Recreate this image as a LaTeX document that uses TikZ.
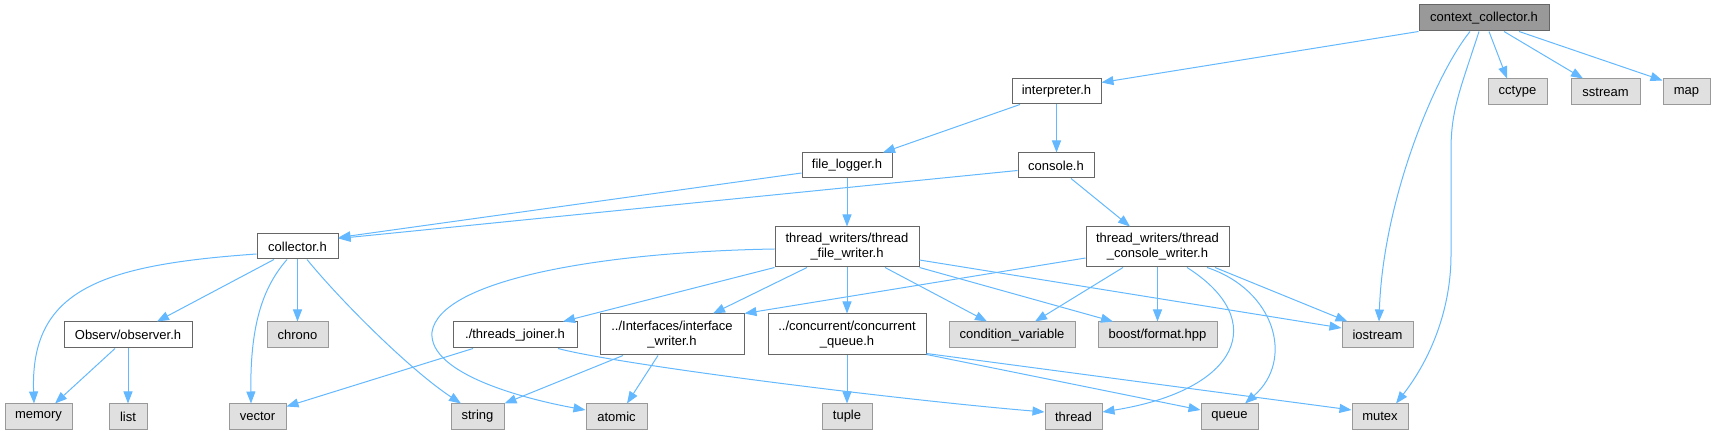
\documentclass[tikz,border=0pt]{standalone}
\usepackage{fontspec}
\setmainfont{Liberation Sans}
\usetikzlibrary{arrows.meta}
\definecolor{edgec}{HTML}{63B8FF}
\definecolor{bordw}{HTML}{666666}
\definecolor{bordg}{HTML}{999999}
\definecolor{fillg}{HTML}{E0E0E0}
\definecolor{fillm}{HTML}{999999}
\begin{document}
\begin{tikzpicture}[x=1pt,y=-1pt,
  box/.style={draw=bordw, fill=white, line width=1pt, inner sep=0pt, align=center, text=black,
    font=\fontsize{13}{15}\selectfont},
  sysbox/.style={box, draw=bordg, fill=fillg},
  mainbox/.style={box, fill=fillm},
  edge/.style={draw=edgec, line width=1pt, -{Triangle[length=12pt,width=9pt]}}]
\useasboundingbox (0,0) rectangle (1716,435);
% nodes
\node[mainbox, minimum width=130pt, minimum height=26pt] (cc) at (1484,18) {context\_collector.h};
\node[box, minimum width=89pt, minimum height=25pt] (interp) at (1056.5,91.5) {interpreter.h};
\node[sysbox, minimum width=59pt, minimum height=26pt] (cctype) at (1517.5,92) {cctype};
\node[sysbox, minimum width=69pt, minimum height=26pt] (sstream) at (1605.5,92) {sstream};
\node[sysbox, minimum width=47pt, minimum height=26pt] (map) at (1686.5,92) {map};
\node[box, minimum width=90pt, minimum height=25pt] (flog) at (847,165.5) {file\_logger.h};
\node[box, minimum width=76pt, minimum height=25pt] (console) at (1056,165.5) {console.h};
\node[box, minimum width=81pt, minimum height=25pt] (collector) at (297.5,246.5) {collector.h};
\node[box, minimum width=144pt, minimum height=40pt] (tfw) at (847,247) {thread\_writers/thread\\\_file\_writer.h};
\node[box, minimum width=143pt, minimum height=40pt] (tcw) at (1157.5,247) {thread\_writers/thread\\\_console\_writer.h};
\node[box, minimum width=128pt, minimum height=26pt] (observer) at (128,335) {Observ/observer.h};
\node[sysbox, minimum width=61pt, minimum height=26pt] (chrono) at (297.5,335) {chrono};
\node[box, minimum width=124pt, minimum height=26pt] (joiner) at (515,335) {./threads\_joiner.h};
\node[box, minimum width=144pt, minimum height=41pt] (iface) at (672,334.5) {../Interfaces/interface\\\_writer.h};
\node[box, minimum width=158pt, minimum height=41pt] (cq) at (847,334.5) {../concurrent/concurrent\\\_queue.h};
\node[sysbox, minimum width=126pt, minimum height=26pt] (condvar) at (1012,335) {condition\_variable};
\node[sysbox, minimum width=119pt, minimum height=26pt] (boost) at (1157.5,335) {boost/format.hpp};
\node[sysbox, minimum width=71pt, minimum height=26pt] (iostream) at (1377.5,335) {iostream};
\node[sysbox, minimum width=67pt, minimum height=25pt] (memory) at (38.5,416.5) {memory};
\node[sysbox, minimum width=38pt, minimum height=25pt] (list) at (128,416.5) {list};
\node[sysbox, minimum width=57pt, minimum height=25pt] (vector) at (257.5,416.5) {vector};
\node[sysbox, minimum width=53pt, minimum height=25pt] (string) at (477.5,416.5) {string};
\node[sysbox, minimum width=61pt, minimum height=25pt] (atomic) at (616.5,416.5) {atomic};
\node[sysbox, minimum width=50pt, minimum height=25pt] (tuple) at (847,416.5) {tuple};
\node[sysbox, minimum width=57pt, minimum height=25pt] (thread) at (1073.5,416.5) {thread};
\node[sysbox, minimum width=57pt, minimum height=25pt] (queue) at (1229.5,416.5) {queue};
\node[sysbox, minimum width=56pt, minimum height=25pt] (mutex) at (1380,416.5) {mutex};
% edges
\draw[edge] (cc.south west) -- ([yshift=-4pt]interp.north east);
\draw[edge] ([xshift=-14pt]cc.south) .. controls (1435,75) and (1383,200) .. ([xshift=1.5pt]iostream.north);
\draw[edge] ([xshift=-5pt]cc.south) .. controls (1460,90) and (1451,110) .. (1451,150) -- (1451,255) .. controls (1451,310) and (1430,360) .. ([xshift=16pt]mutex.north);
\draw[edge] ([xshift=5pt]cc.south) -- ([xshift=-10.5pt]cctype.north);
\draw[edge] ([xshift=20pt]cc.south) -- ([xshift=-22.5pt]sstream.north);
\draw[edge] ([xshift=35pt]cc.south) -- ([yshift=-2pt]map.north west);
\draw[edge] ([xshift=-36.5pt]interp.south) -- ([xshift=36pt]flog.north);
\draw[edge] (interp.south) -- (interp.south |- console.north);
\draw[edge] ([yshift=-7.5pt]flog.west) -- ([yshift=9pt]collector.east);
\draw[edge] ([yshift=-5pt]console.west) -- ([yshift=8pt]collector.east);
\draw[edge] (flog.south) -- (tfw.north);
\draw[edge] ([xshift=15pt]console.south) -- ([xshift=-27.5pt]tcw.north);
\draw[edge] ([yshift=-7.5pt]collector.west) .. controls (100,265) and (30,290) .. ([xshift=-4.5pt]memory.north);
\draw[edge] ([xshift=-23.5pt]collector.south) -- ([xshift=29pt]observer.north);
\draw[edge] ([xshift=-10.5pt]collector.south) .. controls (265,285) and (250,320) .. ([xshift=-6.5pt]vector.north);
\draw[edge] (collector.south) -- (chrono.north);
\draw[edge] ([xshift=9.5pt]collector.south) .. controls (340,300) and (410,370) .. ([xshift=-16.5pt]string.north);
\draw[edge] ([xshift=-13pt]observer.south) -- ([xshift=16.5pt]memory.north);
\draw[edge] (observer.south) -- (list.north);
\draw[edge] ([yshift=-2pt]tfw.west) .. controls (600,252) and (440,280) .. (432,332) .. controls (428,375) and (530,400) .. ([yshift=6.5pt]atomic.west);
\draw[edge] (tfw.south west) -- ([xshift=48pt]joiner.north);
\draw[edge] ([xshift=-40pt]tfw.south) -- ([xshift=41pt]iface.north);
\draw[edge] (tfw.south) -- (cq.north);
\draw[edge] ([xshift=38pt]tfw.south) -- ([xshift=-25pt]condvar.north);
\draw[edge] (tfw.south east) -- ([xshift=-44.5pt]boost.north);
\draw[edge] ([yshift=-13pt]tfw.east) -- ([yshift=7pt]iostream.west);
\draw[edge] ([yshift=-11pt]tcw.west) -- (iface.north east);
\draw[edge] ([xshift=-34.5pt]tcw.south) -- ([xshift=23pt]condvar.north);
\draw[edge] (tcw.south) -- (boost.north);
\draw[edge] ([xshift=29.5pt]tcw.south) .. controls (1270,320) and (1240,390) .. ([yshift=4.5pt]thread.east);
\draw[edge] ([xshift=49.5pt]tcw.south) .. controls (1275,290) and (1295,360) .. ([xshift=15.5pt]queue.north);
\draw[edge] ([xshift=57.5pt]tcw.south) -- ([xshift=-30pt]iostream.north);
\draw[edge] (cq.south) -- (tuple.north);
\draw[edge] ([yshift=1pt]cq.south east) -- ([yshift=6.5pt]queue.west);
\draw[edge] ([yshift=2pt]cq.south east) -- ([yshift=6.5pt]mutex.west);
\draw[edge] ([xshift=-42pt]joiner.south) -- ([yshift=-3pt]vector.north east);
\draw[edge] ([xshift=43pt]joiner.south) .. controls (620,365) and (900,400) .. ([yshift=4.5pt]thread.west);
\draw[edge] ([xshift=-14pt]iface.south) -- ([xshift=10.5pt]atomic.north);
\draw[edge] ([xshift=-49pt]iface.south) -- (string.north east);
\end{tikzpicture}
\end{document}
